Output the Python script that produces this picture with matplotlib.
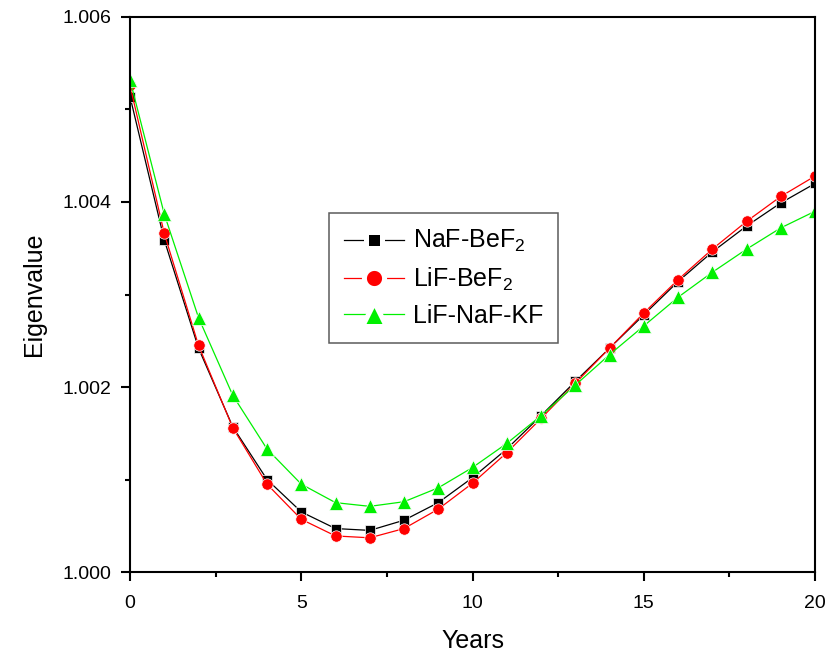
import matplotlib
matplotlib.use("Agg")
import matplotlib.pyplot as plt
from matplotlib.ticker import MultipleLocator, FormatStrFormatter

plt.rcParams['font.family'] = ['Liberation Sans', 'DejaVu Sans']
plt.rcParams['mathtext.default'] = 'regular'

years = list(range(21))

naf_bef2 = [1.00514, 1.00359, 1.00242, 1.00157, 1.00100, 1.00065, 1.00047,
            1.00045, 1.00056, 1.00075, 1.00102, 1.00133, 1.00169, 1.00206,
            1.00242, 1.00278, 1.00314, 1.00346, 1.00374, 1.00399, 1.00420]
lif_bef2 = [1.00526, 1.00366, 1.00245, 1.00156, 1.00095, 1.00057, 1.00039,
            1.00037, 1.00047, 1.00068, 1.00096, 1.00129, 1.00166, 1.00204,
            1.00242, 1.00280, 1.00316, 1.00349, 1.00379, 1.00406, 1.00428]
lif_naf_kf = [1.00532, 1.00387, 1.00275, 1.00191, 1.00133, 1.00095, 1.00075,
              1.00071, 1.00076, 1.00091, 1.00113, 1.00139, 1.00169, 1.00202,
              1.00235, 1.00266, 1.00297, 1.00324, 1.00349, 1.00372, 1.00390]

labels = ["NaF-BeF$_2$", "LiF-BeF$_2$", "LiF-NaF-KF"]
green = '#00f000'

fig = plt.figure(figsize=(8.35, 6.53), dpi=100)
ax = fig.add_axes([0.1557, 0.124, 0.8204, 0.85])

ax.plot(years, naf_bef2, color='black', lw=0.9, marker='s', ms=6.8,
        mec='white', mew=0.5, label=labels[0])
ax.plot(years, lif_bef2, color='red', lw=0.9, marker='o', ms=8.2,
        mec='white', mew=0.5, label=labels[1])
ax.plot(years, lif_naf_kf, color=green, lw=0.9, marker='^', ms=9.5,
        mec='white', mew=0.5, label=labels[2])

ax.set_xlim(0, 20)
ax.set_ylim(1.000, 1.006)
ax.xaxis.set_major_locator(MultipleLocator(5))
ax.xaxis.set_minor_locator(MultipleLocator(2.5))
ax.yaxis.set_major_locator(MultipleLocator(0.002))
ax.yaxis.set_minor_locator(MultipleLocator(0.001))
ax.yaxis.set_major_formatter(FormatStrFormatter('%.3f'))

ax.tick_params(which='both', direction='out', top=False, right=False,
               width=1.5, labelsize=14)
ax.tick_params(which='major', length=6.5)
ax.tick_params(axis='x', which='major', pad=10)
ax.tick_params(axis='y', which='major', pad=7)
ax.tick_params(which='minor', length=3.8)
for s in ax.spines.values():
    s.set_linewidth(1.5)

ax.set_xlabel("Years", fontsize=18, labelpad=12)
ax.set_ylabel("Eigenvalue", fontsize=18, labelpad=12)

leg = ax.legend(loc='upper left', bbox_to_anchor=(0.2905, 0.6463),
                borderaxespad=0, fontsize=18, frameon=True, fancybox=False,
                edgecolor='#333333', handlelength=2.4, handletextpad=0.35,
                borderpad=0.6, labelspacing=0.45)
leg.get_frame().set_linewidth(1.1)
# white halo around legend markers gives the line-gap-marker-gap-line look
for h, size in zip(leg.legend_handles, [12, 14.5, 17.5]):
    h.set_markersize(size)
    h.set_markeredgecolor('white')
    h.set_markeredgewidth(3.6)

fig.savefig("out.png", dpi=100)
